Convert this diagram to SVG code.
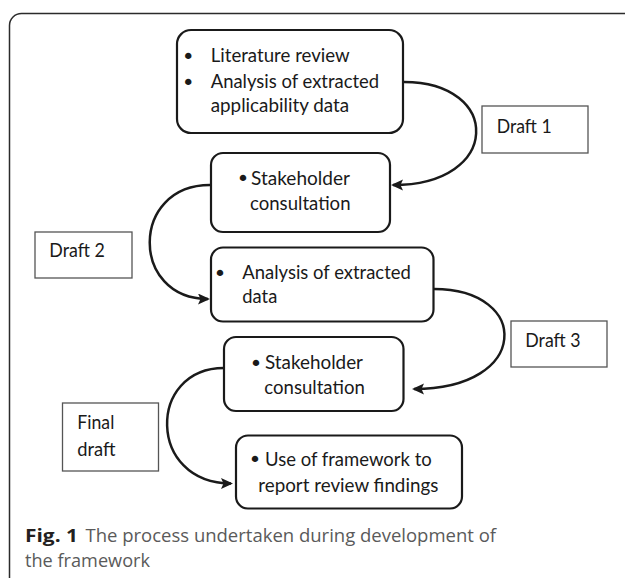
<svg xmlns="http://www.w3.org/2000/svg" width="625" height="578" viewBox="0 0 625 578">
<style>
.frame{fill:none;stroke:#2b2b2b;stroke-width:1.5}
.node{fill:#fff;stroke:#1a1a1a;stroke-width:2.2}
.lab{fill:#fff;stroke:#555;stroke-width:1.3}
.t{font-family:Lato,"Liberation Sans",sans-serif;font-size:18.5px;fill:#1a1a1a}
.b{font-family:"DejaVu Sans",sans-serif;font-size:22px;fill:#1a1a1a}
.con{fill:none;stroke:#1a1a1a;stroke-width:2.5}
.cap{font-family:"Open Sans","Liberation Sans",sans-serif;font-size:18.5px;fill:#5a5a5a}
.capb{font-family:"Open Sans","Liberation Sans",sans-serif;font-size:18.5px;font-weight:bold;fill:#231f20}
</style>
<defs>
<marker id="arr" markerUnits="userSpaceOnUse" markerWidth="13" markerHeight="12" refX="10" refY="5.5" orient="auto">
<path d="M0,0 L12,5.5 L0,11 L2.5,5.5 z" fill="#1a1a1a"/>
</marker>
</defs>
<rect class="frame" x="9.5" y="13.5" width="800" height="700" rx="12"/>

<g id="connectors">
<path class="con" d="M404 82 C502 82 502 185 393 185" marker-end="url(#arr)"/>
<path class="con" d="M210 185 C130 185 130 299 208 299" marker-end="url(#arr)"/>
<path class="con" d="M434 289 C531 289 531 389 414 389" marker-end="url(#arr)"/>
<path class="con" d="M224 368 C147 368 147 483.5 231 483.5" marker-end="url(#arr)"/>
</g>

<g id="n1">
<rect class="node" x="177" y="30" width="226" height="103" rx="14"/>
<text class="b" x="188.3" y="64" text-anchor="middle">•</text>
<text class="t" x="210.7" y="62.3" textLength="139" lengthAdjust="spacingAndGlyphs">Literature review</text>
<text class="b" x="188.3" y="89.5" text-anchor="middle">•</text>
<text class="t" x="210.7" y="87.7" textLength="168.5" lengthAdjust="spacingAndGlyphs">Analysis of extracted</text>
<text class="t" x="210.7" y="112.3" textLength="138.5" lengthAdjust="spacingAndGlyphs">applicability data</text>
</g>

<g id="n2">
<rect class="node" x="211" y="153" width="179" height="79" rx="12"/>
<text class="b" x="243" y="186" text-anchor="middle">•</text>
<text class="t" x="251" y="185" textLength="99" lengthAdjust="spacingAndGlyphs">Stakeholder</text>
<text class="t" x="250" y="210" textLength="100.5" lengthAdjust="spacingAndGlyphs">consultation</text>
</g>

<g id="n3">
<rect class="node" x="211" y="247.5" width="222.5" height="74" rx="12"/>
<text class="b" x="220" y="281" text-anchor="middle">•</text>
<text class="t" x="242.3" y="279.3" textLength="168.5" lengthAdjust="spacingAndGlyphs">Analysis of extracted</text>
<text class="t" x="242.3" y="303.3" textLength="35" lengthAdjust="spacingAndGlyphs">data</text>
</g>

<g id="n4">
<rect class="node" x="224" y="337" width="179.5" height="74" rx="12"/>
<text class="b" x="256" y="370.5" text-anchor="middle">•</text>
<text class="t" x="265" y="369.3" textLength="98" lengthAdjust="spacingAndGlyphs">Stakeholder</text>
<text class="t" x="264.3" y="394.3" textLength="100.5" lengthAdjust="spacingAndGlyphs">consultation</text>
</g>

<g id="n5">
<rect class="node" x="236" y="435.5" width="226" height="73" rx="12"/>
<text class="b" x="255" y="467" text-anchor="middle">•</text>
<text class="t" x="265" y="465.7" textLength="166.7" lengthAdjust="spacingAndGlyphs">Use of framework to</text>
<text class="t" x="258.3" y="491.7" textLength="180" lengthAdjust="spacingAndGlyphs">report review findings</text>
</g>

<g id="draft1">
<rect class="lab" x="482" y="106" width="106" height="47"/>
<text class="t" x="496.7" y="132.7" textLength="55" lengthAdjust="spacingAndGlyphs">Draft 1</text>
</g>
<g id="draft2">
<rect class="lab" x="35" y="232" width="97" height="46"/>
<text class="t" x="49.3" y="257.3" textLength="55.5" lengthAdjust="spacingAndGlyphs">Draft 2</text>
</g>
<g id="draft3">
<rect class="lab" x="511" y="321" width="96" height="46"/>
<text class="t" x="525.3" y="346.7" textLength="55.3" lengthAdjust="spacingAndGlyphs">Draft 3</text>
</g>
<g id="finaldraft">
<rect class="lab" x="62.5" y="403" width="96" height="68"/>
<text class="t" x="77.3" y="429.3" textLength="37" lengthAdjust="spacingAndGlyphs">Final</text>
<text class="t" x="77.3" y="455.7" textLength="38.3" lengthAdjust="spacingAndGlyphs">draft</text>
</g>

<g id="caption">
<text class="capb" x="25" y="541.7" textLength="53" lengthAdjust="spacingAndGlyphs">Fig. 1</text>
<text class="cap" x="85.5" y="541.7" textLength="410.5" lengthAdjust="spacingAndGlyphs">The process undertaken during development of</text>
<text class="cap" x="25" y="567" textLength="125" lengthAdjust="spacingAndGlyphs">the framework</text>
</g>
</svg>
